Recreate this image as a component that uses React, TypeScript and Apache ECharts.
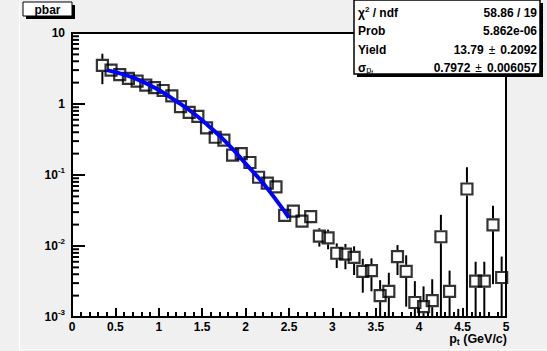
import React, { useEffect, useRef } from "react";
import * as echarts from "echarts";

// ---- data ----
const ptCenters = [0.35, 0.45, 0.55, 0.65, 0.75, 0.85, 0.95, 1.05, 1.15, 1.25, 1.35, 1.45, 1.55, 1.65, 1.75, 1.85, 1.95, 2.05, 2.15, 2.25, 2.35, 2.45, 2.55, 2.65, 2.75, 2.85, 2.95, 3.05, 3.15, 3.25, 3.35, 3.45, 3.55, 3.65, 3.75, 3.85, 3.95, 4.05, 4.15, 4.25, 4.35, 4.45, 4.55, 4.65, 4.75, 4.85, 4.95];
const yields = [3.5, 3.0, 2.6, 2.3, 2.1, 1.85, 1.7, 1.55, 1.3, 0.92, 0.76, 0.67, 0.46, 0.34, 0.31, 0.19, 0.2, 0.15, 0.093, 0.077, 0.068, 0.027, 0.031, 0.0224, 0.026, 0.0138, 0.013, 0.0079, 0.0077, 0.0069, 0.0044, 0.0045, 0.002, 0.0023, 0.0071, 0.0044, 0.0016, 0.0014, 0.0017, 0.0135, 0.0023, 0.0006, 0.0635, 0.0032, 0.0032, 0.0199, 0.0036];
const yieldErrors = [1.6, 0.12, 0.1, 0.09, 0.08, 0.07, 0.06, 0.06, 0.05, 0.04, 0.035, 0.03, 0.025, 0.02, 0.018, 0.013, 0.013, 0.011, 0.008, 0.007, 0.007, 0.004, 0.005, 0.004, 0.005, 0.004, 0.004, 0.003, 0.003, 0.003, 0.0022, 0.0022, 0.0013, 0.0019, 0.0032, 0.003, 0.0016, 0.0013, 0.0017, 0.014, 0.0022, 0.0007, 0.065, 0.0028, 0.0028, 0.017, 0.0035];

const fitPt = [0.4, 0.6, 0.8, 1.0, 1.2, 1.4, 1.6, 1.8, 2.0, 2.2, 2.4, 2.5];
const fitVal = [3.0, 2.6, 2.1, 1.57, 1.1, 0.74, 0.46, 0.27, 0.145, 0.077, 0.037, 0.025];

const histTitle = "pbar";
const xTitle = "p{sub|t} (GeV/c)";
const statsLabels = ["χ{sup|2} / ndf", "Prob", "Yield", "σ{sub|p}{subsub|t}"];
const statsValues = ["58.86 / 19", "5.862e-06", "13.79{pm|±}0.2092", "0.7972{pm|±}0.006057"];

const FONT = "Liberation Sans, Arial, Helvetica, sans-serif";

export default function App() {
  const ref = useRef<HTMLDivElement>(null);
  useEffect(() => {
    if (!ref.current) return;
    const chart = echarts.init(ref.current, undefined, { renderer: "svg" });

    const points = ptCenters.map((x, i) => [x, yields[i], yieldErrors[i]]);
    const fitData = fitPt.map((x, i) => [x, fitVal[i]]);

    // minor tick positions of the log axis (2..9 x each decade)
    const yMinor: number[][] = [];
    for (let d = -3; d < 1; d++) {
      for (let k = 2; k <= 9; k++) yMinor.push([0, k * Math.pow(10, d)]);
    }

    const half = 6.5;

    const option: any = {
      animation: false,
      backgroundColor: "#f0f0f0",
      textStyle: { fontFamily: FONT },
      grid: {
        left: 72,
        top: 33,
        right: 41,
        bottom: 34,
        show: true,
        backgroundColor: "#ffffff",
        borderColor: "#000",
        borderWidth: 2,
      },
      xAxis: {
        type: "value",
        min: 0,
        max: 5,
        interval: 0.5,
        axisLine: { show: true, onZero: false, lineStyle: { color: "#000", width: 2 } },
        axisTick: { show: true, inside: true, length: 9, lineStyle: { color: "#000", width: 2 } },
        minorTick: { show: true, splitNumber: 5, length: 5, lineStyle: { color: "#000", width: 2 } },
        splitLine: { show: false },
        minorSplitLine: { show: false },
        axisLabel: {
          color: "#000",
          fontSize: 12,
          fontWeight: "bold",
          fontFamily: FONT,
          margin: 4,
          showMinLabel: true,
          showMaxLabel: true,
        },
      },
      yAxis: {
        type: "log",
        logBase: 10,
        min: 0.001,
        max: 10,
        axisLine: { show: true, lineStyle: { color: "#000", width: 2 } },
        axisTick: { show: true, inside: true, length: 13, lineStyle: { color: "#000", width: 2 } },
        splitLine: { show: false },
        axisLabel: {
          color: "#000",
          fontSize: 12,
          fontWeight: "bold",
          fontFamily: FONT,
          margin: 7,
          formatter: (v: number) => {
            const e = Math.round(Math.log10(v));
            if (e === 1) return "10";
            if (e === 0) return "1";
            return "10{sup|" + e + "}";
          },
          rich: {
            sup: { fontSize: 8, fontWeight: "bold", fontFamily: FONT, color: "#000", padding: [0, 0, 9, 0] },
          },
        },
      },
      series: [
        {
          type: "custom",
          name: "yminor",
          silent: true,
          data: yMinor,
          renderItem: (params: any, api: any) => {
            const cs = params.coordSys;
            const p = api.coord([0, api.value(1)]);
            return {
              type: "line",
              shape: { x1: cs.x, y1: p[1], x2: cs.x + 7, y2: p[1] },
              style: { stroke: "#000", lineWidth: 2 },
            };
          },
          z: 3,
        },
        {
          type: "custom",
          name: "errors",
          silent: true,
          data: points,
          renderItem: (params: any, api: any) => {
            const cs = params.coordSys;
            const top = cs.y;
            const bottom = cs.y + cs.height;
            const x = api.value(0);
            const y = api.value(1);
            const e = api.value(2);
            const c = api.coord([x, y]);
            const hiY = Math.max(api.coord([x, y + e])[1], top);
            const lo = y - e;
            let loY = lo > 0 ? api.coord([x, lo])[1] : bottom;
            loY = Math.min(loY, bottom);
            const children: any[] = [];
            const upEnd = Math.min(c[1] - half, bottom);
            if (hiY < upEnd) {
              children.push({
                type: "line",
                shape: { x1: c[0], y1: hiY, x2: c[0], y2: upEnd },
                style: { stroke: "#000", lineWidth: 2 },
              });
            }
            const lowStart = c[1] + half;
            if (lowStart < loY) {
              children.push({
                type: "line",
                shape: { x1: c[0], y1: lowStart, x2: c[0], y2: loY },
                style: { stroke: "#000", lineWidth: 2 },
              });
            }
            return { type: "group", children };
          },
          z: 4,
        },
        {
          type: "scatter",
          name: "data",
          data: points.map((p) => [p[0], p[1]]),
          symbol: "rect",
          symbolSize: 11,
          clip: true,
          itemStyle: { color: "rgba(0,0,0,0)", borderColor: "#000", borderWidth: 2.2 },
          z: 5,
        },
        {
          type: "line",
          name: "fit",
          data: fitData,
          smooth: true,
          showSymbol: false,
          lineStyle: { color: "#0000ff", width: 4 },
          z: 6,
        },
      ],
      graphic: [
        // pad edges
        { type: "line", shape: { x1: 19.5, y1: 0, x2: 19.5, y2: 349.5 }, style: { stroke: "#ffffff", lineWidth: 1 }, silent: true },
        { type: "line", shape: { x1: 19.5, y1: 349.5, x2: 547, y2: 349.5 }, style: { stroke: "#ffffff", lineWidth: 1 }, silent: true },
        // title box
        { type: "rect", shape: { x: 26, y: 5, width: 49, height: 14 }, style: { fill: "#000" }, silent: true },
        { type: "rect", shape: { x: 23, y: 2, width: 49, height: 14 }, style: { fill: "#ffffff", stroke: "#000", lineWidth: 1 }, silent: true },
        {
          type: "text",
          x: 47.5,
          y: 9.5,
          style: { text: histTitle, align: "center", verticalAlign: "middle", fontSize: 12, fontWeight: "bold", fontFamily: FONT, fill: "#000" },
          silent: true,
        },
        // stats box
        { type: "rect", shape: { x: 357, y: 3, width: 186, height: 74 }, style: { fill: "#000" }, silent: true },
        { type: "rect", shape: { x: 354, y: 0, width: 186, height: 74 }, style: { fill: "#ffffff", stroke: "#000", lineWidth: 1.5 }, silent: true },
        ...statsLabels.map((t, i) => ({
          type: "text",
          x: 358,
          y: 13 + i * 18.3,
          style: {
            text: t,
            align: "left",
            verticalAlign: "middle",
            fontSize: 12,
            fontWeight: "bold",
            fontFamily: FONT,
            fill: "#000",
            rich: {
              sup: { fontSize: 8, fontWeight: "bold", fontFamily: FONT, fill: "#000", padding: [0, 0, 8, 0] },
              sub: { fontSize: 9, fontFamily: FONT, fill: "#000", padding: [5, 0, 0, 0] },
              subsub: { fontSize: 7, fontFamily: FONT, fill: "#000", padding: [9, 0, 0, 0] },
            },
          },
          silent: true,
        })),
        ...statsValues.map((t, i) => ({
          type: "text",
          x: 537,
          y: 13 + i * 18.3,
          style: {
            text: t,
            align: "right",
            verticalAlign: "middle",
            fontSize: 12,
            fontWeight: "bold",
            fontFamily: FONT,
            fill: "#000",
            rich: {
              pm: { fontSize: 12, fontFamily: FONT, fill: "#000", padding: [0, 5, 0, 5] },
            },
          },
          silent: true,
        })),
        // x axis title
        {
          type: "text",
          x: 507,
          y: 339,
          style: {
            text: xTitle,
            align: "right",
            verticalAlign: "middle",
            fontSize: 12.5,
            fontWeight: "bold",
            fontFamily: FONT,
            fill: "#000",
            rich: {
              sub: { fontSize: 9, fontWeight: "bold", fontFamily: FONT, fill: "#000", padding: [6, 0, 0, 0] },
            },
          },
          silent: true,
        },
      ],
    };

    chart.setOption(option);
    return () => chart.dispose();
  }, []);

  return (
    <div
      ref={ref}
      style={{ position: "fixed", left: 0, top: 0, width: 547, height: 351 }}
    />
  );
}
